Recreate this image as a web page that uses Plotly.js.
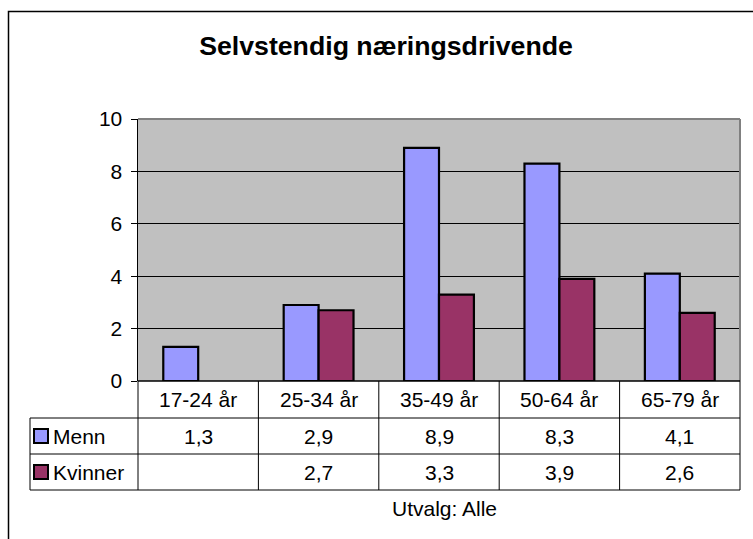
<!DOCTYPE html>
<html>
<head>
<meta charset="utf-8">
<script src="https://cdn.plot.ly/plotly-3.0.1.min.js"></script>
<style>html,body{margin:0;padding:0;background:#fff;}#chart{width:753px;height:539px;}</style>
</head>
<body>
<div id="chart"></div>
<script>
// ---- data ----
const categories = ["17-24 år", "25-34 år", "35-49 år", "50-64 år", "65-79 år"];
const seriesNames = ["Menn", "Kvinner"];
const menn = [1.3, 2.9, 8.9, 8.3, 4.1];
const kvinner = [null, 2.7, 3.3, 3.9, 2.6];
const yTicks = [0, 2, 4, 6, 8, 10];
const titleText = "Selvstendig næringsdrivende";
const noteText = "Utvalg: Alle";

// ---- styles / geometry ----
const colors = ["#9999FF", "#993366"];
const FONT = "Liberation Sans, Arial, sans-serif";
const PL = 138, PR = 740, PT = 119, PB = 381;
const W = PR - PL, H = PB - PT;
const px = x => (x - PL) / W;
const py = y => (PB - y) / H;
const rows = [381, 418, 454, 490];
const labelLeft = 30;
const n = categories.length;
const colEdge = k => k / n; // paper x of column boundary

const fmt = v => (v === null || v === undefined) ? "" : v.toFixed(1).replace(".", ",");

const traces = [menn, kvinner].map((vals, i) => ({
  type: "bar",
  name: seriesNames[i],
  x: categories,
  y: vals,
  marker: {color: colors[i], line: {color: "#000", width: 2.2}},
  hoverinfo: "skip"
}));

const shapes = [];
const line = (x0, y0, x1, y1, color, width) => shapes.push({
  type: "line", xref: "paper", yref: "paper", x0, y0, x1, y1,
  line: {color: color || "#000", width: width || 1}
});

// outer frame (cut off at right/bottom)
shapes.push({type: "rect", xref: "paper", yref: "paper",
  x0: px(8.5), x1: px(770), y0: py(11.5), y1: py(560),
  line: {color: "#000", width: 1.5}, layer: "below"});

// plot area border top/right (gray)
line(px(PL), py(PT), px(PR), py(PT), "#808080", 2);
line(px(PR), py(PT), px(PR), py(PB), "#808080", 2);

// table: horizontal lines
line(px(PL), py(rows[0]), px(PR), py(rows[0]), "#000", 1.5);
for (let r = 1; r < rows.length; r++) line(px(labelLeft), py(rows[r]), px(PR), py(rows[r]), "#000", 1);
// vertical lines
for (let k = 0; k <= n; k++) line(colEdge(k), py(rows[0]), colEdge(k), py(rows[3]), "#000", 1);
line(px(labelLeft), py(rows[1]), px(labelLeft), py(rows[3]), "#000", 1);

// legend keys
const keyX0 = 34, keySize = 14;
[0, 1].forEach(i => {
  const cy = (rows[i + 1] + rows[i + 2]) / 2;
  shapes.push({type: "rect", xref: "paper", yref: "paper",
    x0: px(keyX0), x1: px(keyX0 + keySize), y0: py(cy - keySize / 2), y1: py(cy + keySize / 2),
    fillcolor: colors[i], line: {color: "#000", width: 2}});
});

const annotations = [];
const txt = (x, y, text, xanchor) => annotations.push({
  xref: "paper", yref: "paper", x, y, text, showarrow: false,
  xanchor: xanchor || "center", yanchor: "middle",
  font: {family: FONT, size: 21, color: "#000"}
});
categories.forEach((c, k) => {
  const cx = (colEdge(k) + colEdge(k + 1)) / 2;
  txt(cx, py((rows[0] + rows[1]) / 2), c);
  txt(cx, py((rows[1] + rows[2]) / 2), fmt(menn[k]));
  txt(cx, py((rows[2] + rows[3]) / 2), fmt(kvinner[k]));
});
seriesNames.forEach((s, i) => {
  txt(px(51), py((rows[i + 1] + rows[i + 2]) / 2), s, "left");
});
txt(px(444), py(508), noteText);

const layout = {
  width: 753, height: 539,
  margin: {l: PL, r: 753 - PR, t: PT, b: 539 - PB, pad: 0},
  paper_bgcolor: "#fff",
  plot_bgcolor: "#C0C0C0",
  barmode: "group",
  bargap: 0.42,
  bargroupgap: 0,
  showlegend: false,
  title: {text: "<b>" + titleText + "</b>", xref: "container", yref: "container",
    x: 386 / 753, y: 1 - 45.5 / 539, xanchor: "center", yanchor: "middle",
    font: {family: FONT, size: 26.7, color: "#000"}},
  xaxis: {type: "category", range: [-0.5, n - 0.5], showticklabels: false,
    showline: false, showgrid: false, zeroline: false, ticks: "", fixedrange: true},
  yaxis: {range: [0, 10], tickvals: yTicks, ticktext: yTicks.map(String),
    showgrid: true, gridcolor: "#000", gridwidth: 1, zeroline: false,
    showline: true, linecolor: "#000", linewidth: 1.5,
    ticks: "outside", ticklen: 6, tickcolor: "#000", tickwidth: 1,
    ticklabelstandoff: 4,
    tickfont: {family: FONT, size: 21, color: "#000"}, fixedrange: true},
  shapes, annotations
};

Plotly.newPlot("chart", traces, layout, {displayModeBar: false, staticPlot: true});
</script>
</body>
</html>
